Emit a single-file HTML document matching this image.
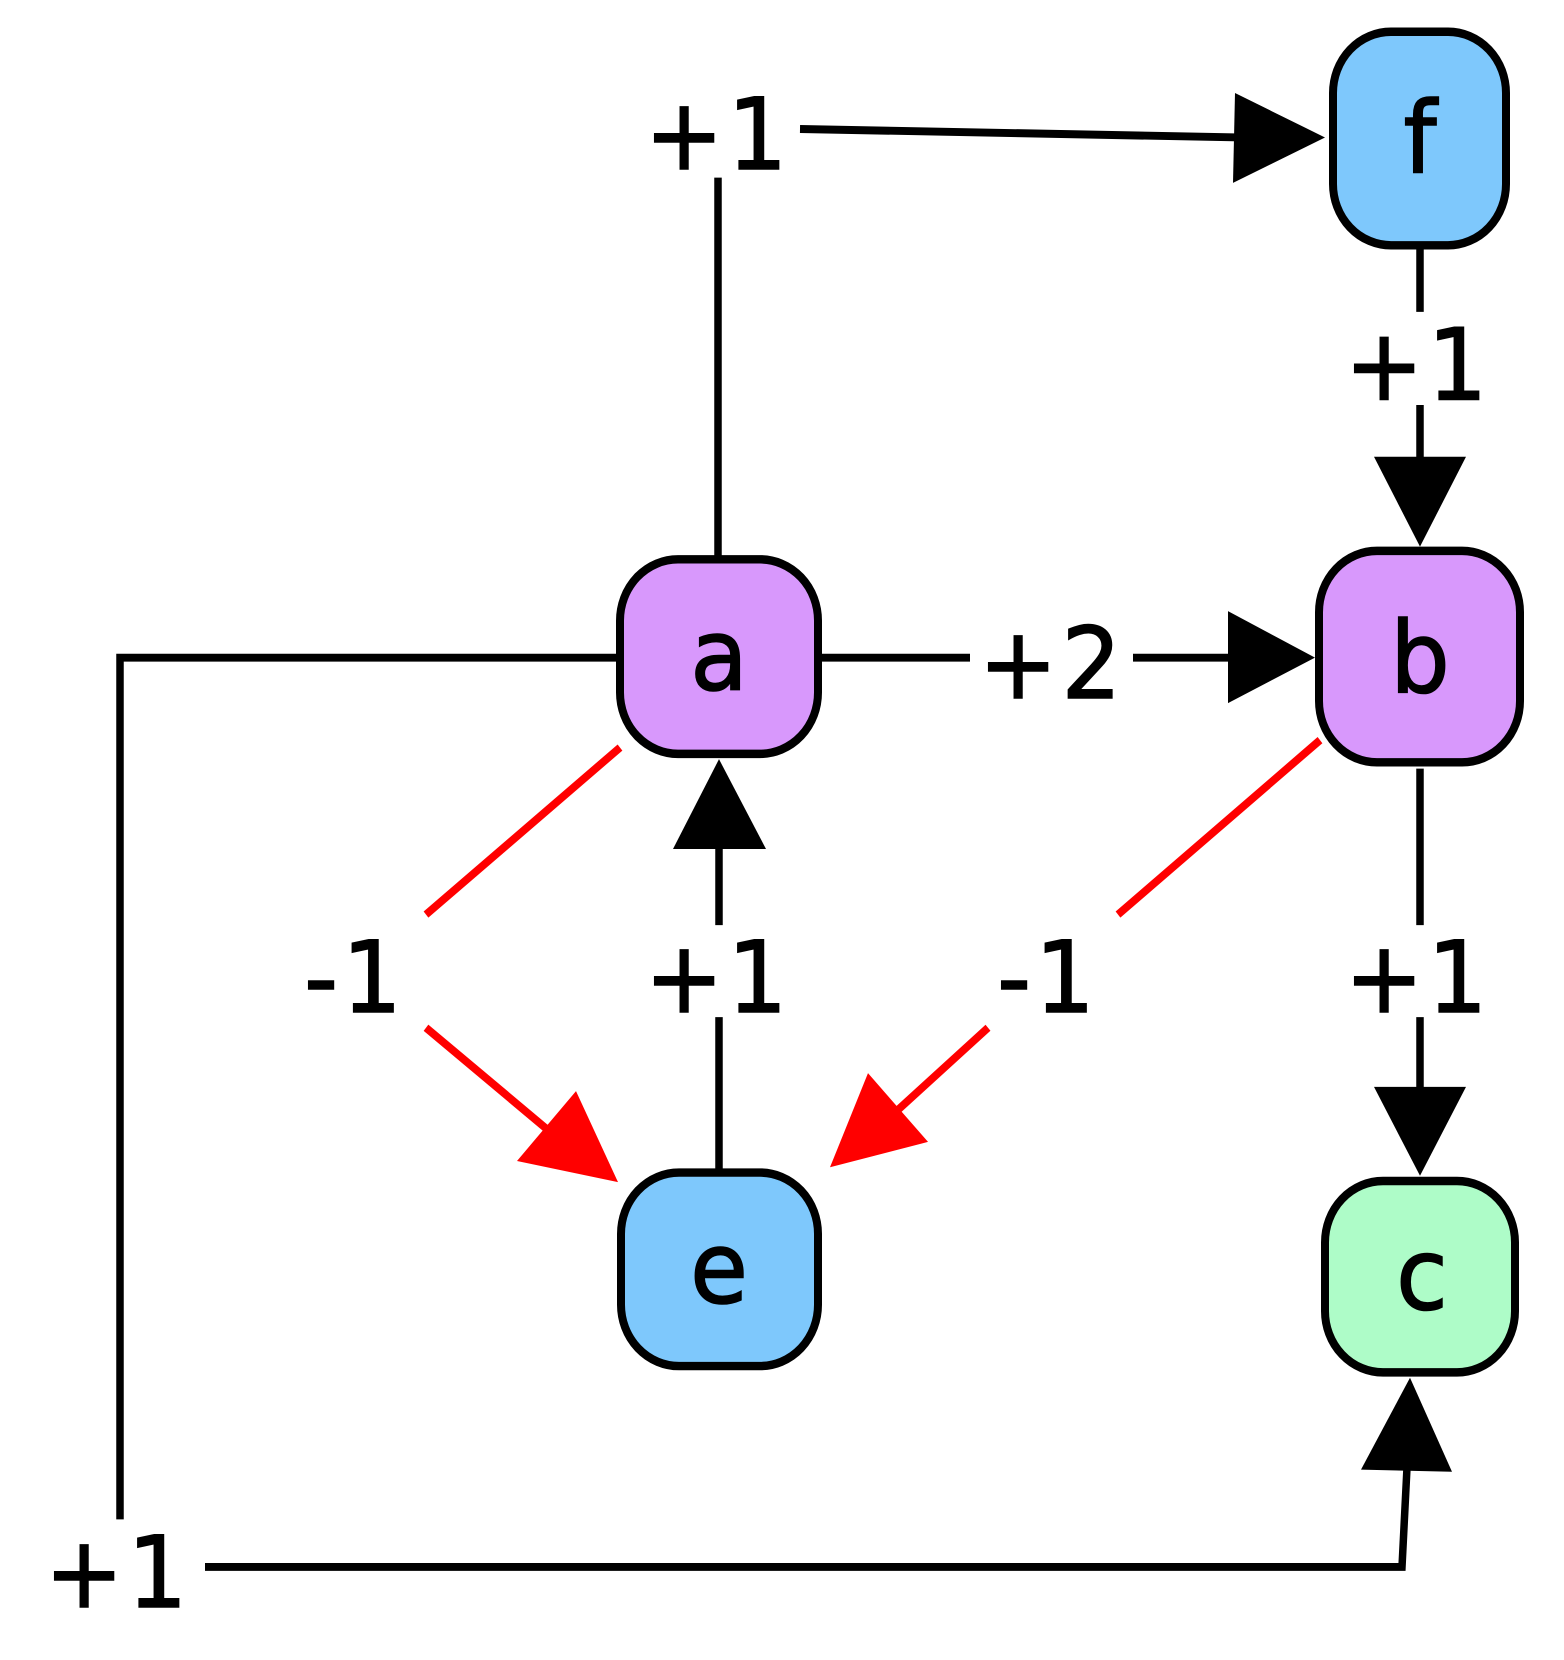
<!DOCTYPE html>
<html><head><style>html,body{margin:0;padding:0;background:#fff}svg{display:block}</style></head>
<body>
<svg width="1564" height="1660" viewBox="0 0 1564 1570" preserveAspectRatio="none" xmlns="http://www.w3.org/2000/svg">
<g fill="none" stroke="#000" stroke-width="7.5">
<line x1="718" y1="527" x2="718" y2="168"/>
<line x1="800" y1="122" x2="1240" y2="130"/>
<line x1="1420" y1="234" x2="1420" y2="295"/>
<line x1="1420" y1="383" x2="1420" y2="435"/>
<line x1="820" y1="622" x2="970" y2="622"/>
<line x1="1133" y1="622" x2="1230" y2="622"/>
<polyline points="618,622 120,622 120,1437"/>
<polyline points="205,1482 1402,1482 1407,1388"/>
<line x1="719" y1="1107" x2="719" y2="962"/>
<line x1="719" y1="875" x2="719" y2="800"/>
<line x1="1420" y1="727" x2="1420" y2="875"/>
<line x1="1420" y1="962" x2="1420" y2="1030"/>
</g>
<g fill="none" stroke="#f00" stroke-width="7.5">
<line x1="620" y1="707" x2="426" y2="865"/>
<line x1="426" y1="972" x2="552" y2="1072"/>
<line x1="1320" y1="700" x2="1118" y2="865"/>
<line x1="988" y1="972" x2="893" y2="1054"/>
</g>
<g fill="#000">
<polygon points="1235,88 1325,130 1233,173"/>
<polygon points="1374,432 1466,432 1420,517"/>
<polygon points="1228,578 1315,622 1228,665"/>
<polygon points="1361,1390 1452,1392 1410,1303"/>
<polygon points="673,803 766,803 719,718"/>
<polygon points="1374,1028 1466,1028 1420,1112"/>
</g>
<g fill="#f00">
<polygon points="517,1098 576,1032 618,1118"/>
<polygon points="868,1015 928,1080 830,1104"/>
</g>
<g stroke="#000" stroke-width="8">
<rect x="620" y="529" width="198" height="184" rx="58" fill="#d898fc"/>
<rect x="1319" y="521" width="201" height="200" rx="58" fill="#d898fc"/>
<rect x="1333" y="30" width="173" height="202" rx="58" fill="#7ec8fc"/>
<rect x="621" y="1109" width="197" height="183" rx="58" fill="#7ec8fc"/>
<rect x="1325" y="1117" width="190" height="181" rx="58" fill="#aefcc8"/>
</g>
<g font-family="'DejaVu Sans','Liberation Sans',sans-serif" font-size="94" text-anchor="middle" fill="#000" stroke="#000" stroke-width="1.5">
<text x="719" y="652">a</text>
<text x="1420" y="655">b</text>
<text x="1420" y="163">f</text>
<text x="719" y="1232">e</text>
<text x="1422" y="1238">c</text>
<text x="718" y="160" letter-spacing="4">+1</text>
<text x="1418" y="378" letter-spacing="4">+1</text>
<text x="1052" y="660" letter-spacing="4">+2</text>
<text x="118" y="1520" letter-spacing="4">+1</text>
<text x="718" y="957" letter-spacing="4">+1</text>
<text x="1418" y="957" letter-spacing="4">+1</text>
<text x="355" y="957" letter-spacing="4">-1</text>
<text x="1048" y="957" letter-spacing="4">-1</text>
</g>
</svg>
</body></html>
